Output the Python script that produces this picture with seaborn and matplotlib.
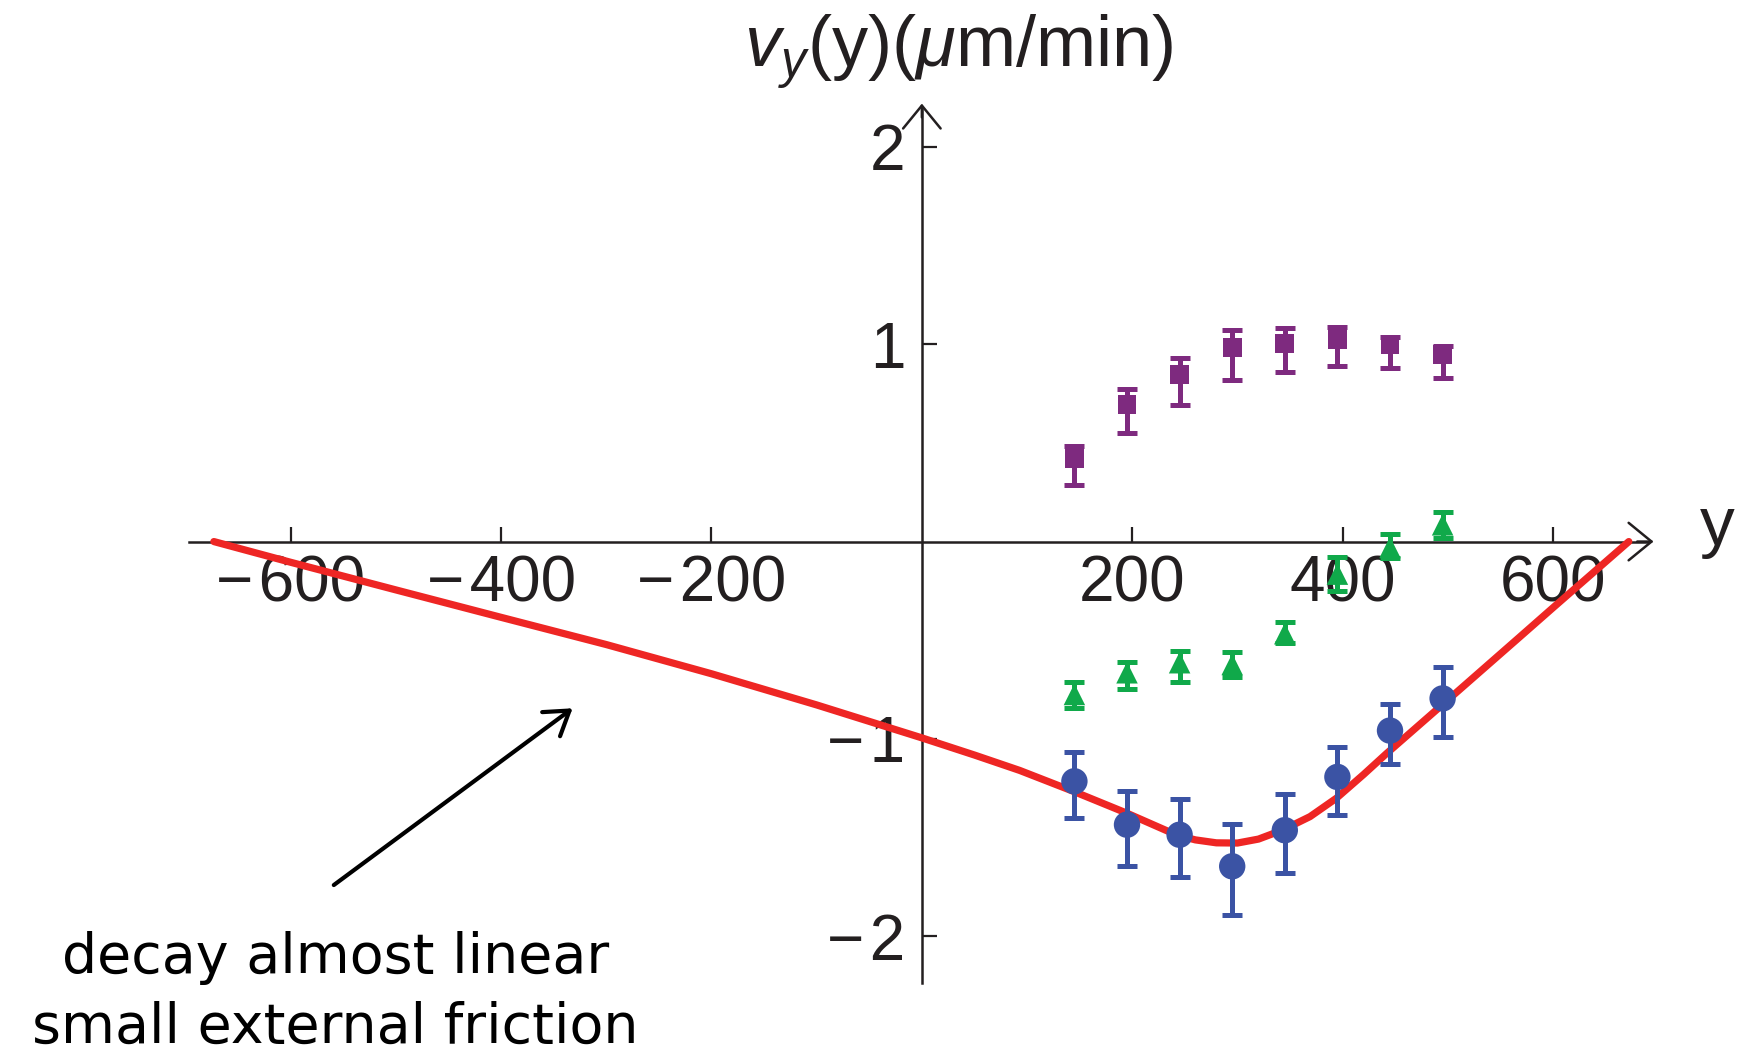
import numpy as np
import pandas as pd
import matplotlib
matplotlib.use("Agg")
import matplotlib.pyplot as plt
import seaborn as sns

# ---------------- data ----------------
pos_y = [145, 195, 245, 295, 345, 395, 445, 495]

purple_v = [0.421, 0.694, 0.846, 0.985, 1.005, 1.025, 0.998, 0.948]
purple_hi = [0.486, 0.772, 0.931, 1.073, 1.080, 1.086, 1.036, 0.990]
purple_lo = [0.286, 0.548, 0.692, 0.821, 0.861, 0.890, 0.878, 0.831]

green_v = [-0.775, -0.665, -0.614, -0.623, -0.467, -0.165, -0.030, 0.085]
green_hi = [-0.710, -0.609, -0.555, -0.558, -0.406, -0.080, 0.037, 0.152]
green_lo = [-0.846, -0.745, -0.710, -0.687, -0.513, -0.250, -0.085, 0.017]

blue_v = [-1.215, -1.435, -1.486, -1.646, -1.463, -1.193, -0.958, -0.795]
blue_hi = [-1.066, -1.262, -1.303, -1.430, -1.279, -1.041, -0.821, -0.634]
blue_lo = [-1.401, -1.643, -1.702, -1.895, -1.680, -1.384, -1.125, -0.992]

model_y = [-673, -600, -500, -400, -300, -200, -100, 0, 50, 93, 145, 195, 242,
           260, 280, 300, 320, 343, 369, 394, 420, 442, 492, 568, 600, 672]
model_v = [0.0, -0.105, -0.245, -0.384, -0.522, -0.670, -0.828, -0.995, -1.082,
           -1.160, -1.268, -1.377, -1.487, -1.512, -1.527, -1.528, -1.508,
           -1.462, -1.394, -1.301, -1.18, -1.073, -0.84, -0.485, -0.335, 0.0]

x_ticks = [-600, -400, -200, 200, 400, 600]
y_ticks = [-2, -1, 1, 2]

ylabel_text = r"$v_y$(y)($\mu$m/min)"
xlabel_text = "y"
note_lines = ["decay almost linear", "small external friction"]

# ---------------- style ----------------
sns.set_theme(style="white")
plt.rcParams['font.family'] = ['Liberation Sans', 'DejaVu Sans']
plt.rcParams['mathtext.fontset'] = 'custom'
plt.rcParams['mathtext.rm'] = 'Liberation Sans'
plt.rcParams['mathtext.it'] = 'Liberation Sans:italic'
plt.rcParams['mathtext.bf'] = 'Liberation Sans:bold'

AX = '#231f20'
RED = '#ee2624'
BLUE = '#3b53a4'
PURPLE = '#7e2a7f'
GREEN = '#10a94a'

fig = plt.figure(figsize=(17.4, 10.64), dpi=100)
ax = fig.add_axes([0, 0, 1, 1])
ax.set_xlim(-876.3, 777.7)
ax.set_ylim(-2.648, 2.745)
ax.set_facecolor('none')

# axes through origin
for s in ['top', 'right']:
    ax.spines[s].set_visible(False)
ax.spines['left'].set_position(('data', 0))
ax.spines['bottom'].set_position(('data', 0))
ax.spines['bottom'].set_bounds(-697, 690)
ax.spines['left'].set_bounds(-2.235, 2.2)
for s in ['left', 'bottom']:
    ax.spines[s].set_color(AX)
    ax.spines[s].set_linewidth(1.8)
    ax.spines[s].set_zorder(1)

ax.annotate('', xy=(695.5, 0), xytext=(680, 0),
            arrowprops=dict(arrowstyle='->,head_length=0.55,head_width=0.45',
                            lw=1.8, color=AX, mutation_scale=30, shrinkA=0, shrinkB=0))
ax.annotate('', xy=(0, 2.22), xytext=(0, 2.15),
            arrowprops=dict(arrowstyle='->,head_length=0.55,head_width=0.45',
                            lw=1.8, color=AX, mutation_scale=30, shrinkA=0, shrinkB=0))


def fmt(t):
    return f"\u2212\u200a{abs(t)}" if t < 0 else str(t)


ax.set_xticks(x_ticks)
ax.set_xticklabels([fmt(t) for t in x_ticks])
ax.set_yticks(y_ticks)
ax.set_yticklabels([fmt(t) for t in y_ticks])
ax.tick_params(axis='x', direction='in', length=11, width=1.6, color=AX,
               labelsize=46, labelcolor=AX, pad=9, bottom=True)
ax.tick_params(axis='y', direction='in', length=11, width=1.6, color=AX,
               labelsize=46, labelcolor=AX, pad=12, left=True)
ax.grid(False)

# model curve
df_model = pd.DataFrame({'y': model_y, 'v': model_v})
sns.lineplot(data=df_model, x='y', y='v', color=RED, lw=5.2, sort=False,
             ax=ax, zorder=3)

# data with error bars
series = [
    (purple_v, purple_lo, purple_hi, PURPLE, 's', 13.5),
    (green_v, green_lo, green_hi, GREEN, '^', 15.5),
    (blue_v, blue_lo, blue_hi, BLUE, 'o', 19),
]
for v, lo, hi, col, mk, ms in series:
    v = np.array(v); lo = np.array(lo); hi = np.array(hi)
    ax.errorbar(pos_y, v, yerr=[v - lo, hi - v], fmt='none', ecolor=col,
                elinewidth=3.6, capsize=7, capthick=3.6, zorder=4)
    df = pd.DataFrame({'y': pos_y, 'v': v})
    sns.scatterplot(data=df, x='y', y='v', marker=mk, color=col,
                    s=ms ** 2, edgecolor='none', linewidth=0, ax=ax, zorder=5)

ax.set_xlabel('')
ax.set_ylabel('')

# axis labels
fig.text(959 / 1740, 1 - 66.7 / 1064, ylabel_text, ha='center', va='baseline',
         fontsize=52, color=AX)
fig.text(1700 / 1740, 1 - 545 / 1064, xlabel_text, ha='left', va='baseline',
         fontsize=50, color=AX)

# annotation
ax.annotate('', xy=(-332, -0.845), xytext=(-559, -1.741),
            arrowprops=dict(arrowstyle='->,head_length=0.55,head_width=0.36',
                            lw=3, color='black', mutation_scale=30,
                            shrinkA=0, shrinkB=0))
fig.text(336 / 1740, 1 - 973 / 1064, note_lines[0], ha='center', va='baseline',
         fontsize=40, color='black', family=['DejaVu Sans'])
fig.text(335 / 1740, 1 - 1043 / 1064, note_lines[1], ha='center', va='baseline',
         fontsize=40, color='black', family=['DejaVu Sans'])

fig.savefig('out.png', dpi=100)
